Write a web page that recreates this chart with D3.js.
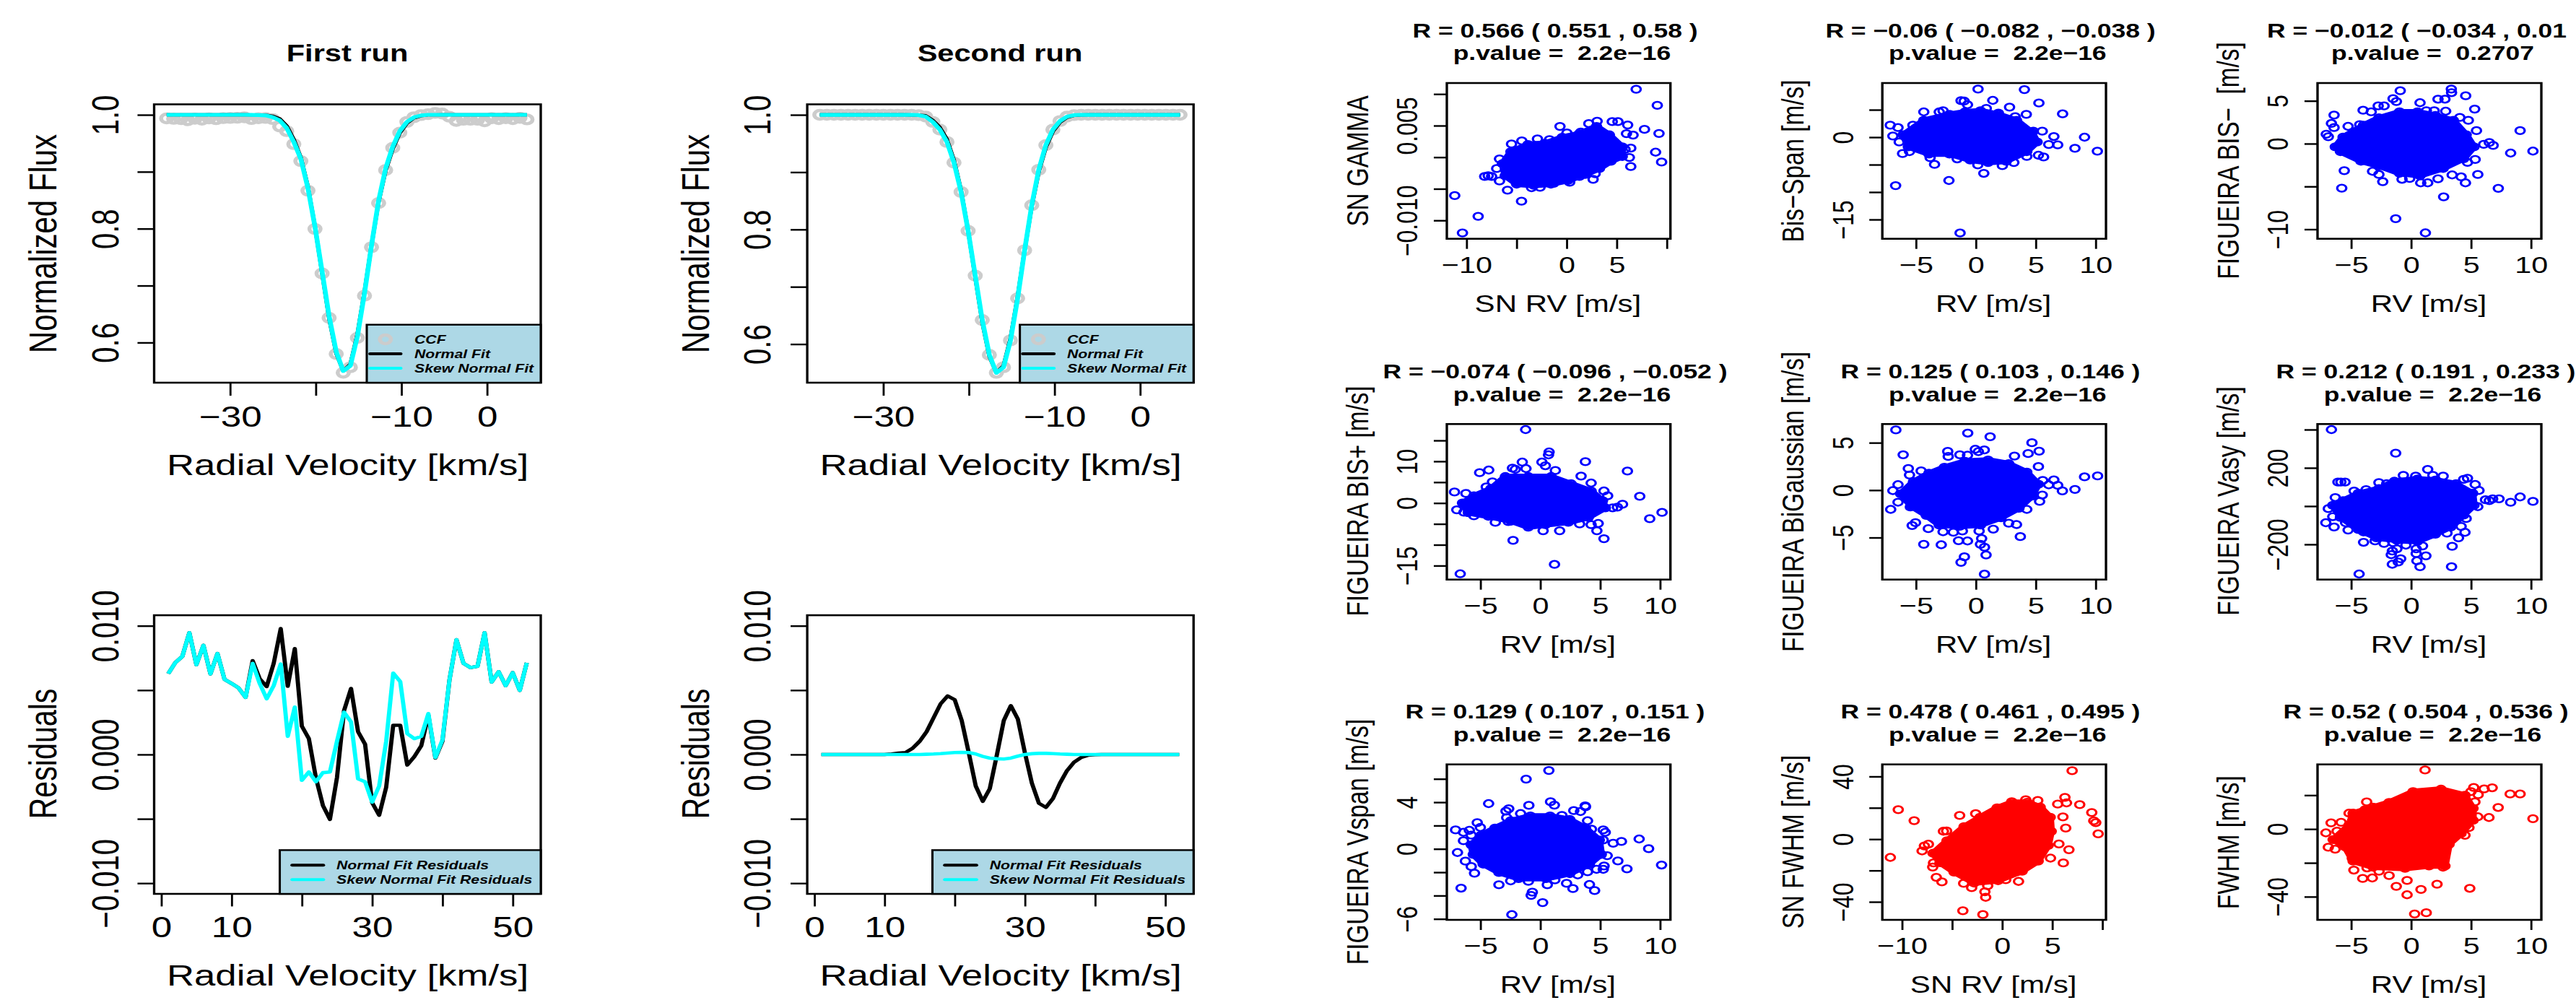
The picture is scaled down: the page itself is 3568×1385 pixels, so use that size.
<!DOCTYPE html>
<html>
<head>
<meta charset="utf-8">
<title>CCF fits and RV correlations</title>
<script src="https://cdn.jsdelivr.net/npm/d3@7/dist/d3.min.js"></script>
<style>
    html, body { margin: 0; padding: 0; background: #fff; overflow: hidden; }
    svg { display: block; }
    text { font-family: "Liberation Sans", Arial, sans-serif; fill: #000; white-space: pre; }
</style>
</head>
<body>
<svg id="chart" width="3568" height="1385"></svg>
<script>
// CCF grid in km/s
const velocity = [-37.40, -36.58, -35.75, -34.93, -34.10, -33.28, -32.45, -31.63, -30.80, -29.98, -29.15, -28.33, -27.50,
    -26.68, -25.85, -25.03, -24.20, -23.38, -22.55, -21.73, -20.90, -20.08, -19.25, -18.43, -17.60, -16.78, -15.95, -15.13,
    -14.30, -13.48, -12.65, -11.83, -11.00, -10.18, -9.35, -8.53, -7.70, -6.88, -6.05, -5.23, -4.40, -3.58, -2.75, -1.93,
    -1.10, -0.28, 0.55, 1.37, 2.20, 3.02, 3.85, 4.67];

// First run
const ccfFirst = [.9937, .9929, .9924, .9905, .9930, .9915, .9937, .9922, .9942, .9945, .9948, .9955, .9925, .9940, .9945,
    .9925, .9794, .9713, .9485, .9187, .8667, .7995, .7214, .6434, .5799, .5469, .5566, .6081, .6824, .7675, .8450, .9030,
    .9420, .9686, .9875, .9957, .9995, 1.0011, 1.0033, 1.0022, .9967, .9892, .9913, .9913, .9913, .9886, .9940, .9924, .9940,
    .9924, .9946, .9919];
const normalFirst = [1, 1, 1, 1, 1, 1, 1, 1, 1, 1, 1, 1, .9999, .9998, .9995, .9977, .9931, .9806, .9568, .9251, .8736, .8035,
    .7222, .6425, .5810, .5500, .5619, .6146, .6894, .7708, .8471, .9019, .9401, .9679, .9853, .9944, .9983, .9998, .9999,
    1, 1, 1, 1, 1, 1, 1, 1, 1, 1, 1, 1, 1];
const skewFirst = [1, 1, 1, 1, 1, 1, 1, 1, 1, 1, 1, 1, .9998, .9995, .9990, .9960, .9902, .9767, .9523, .9225, .8710, .8033,
    .7247, .6461, .5837, .5501, .5593, .6108, .6867, .7707, .8493, .9057, .9442, .9713, .9875, .9957, .9989, 1,
    1, 1, 1, 1, 1, 1, 1, 1, 1, 1, 1, 1, 1, 1];

// Second run
const ccfSecond = [1, 1, 1, 1, 1, 1, 1, 1, 1, 1, 1, 1, 1, 1, .9995, .9968, .9876, .9742, .9526, .9166, .8654, .7976, .7195,
    .6420, .5812, .5499, .5596, .6065, .6797, .7637, .8423, .9042, .9472, .9742, .9892, .9968, .9995, 1, 1, 1, 1, 1, 1, 1, 1,
    1, 1, 1, 1, 1, 1, 1];
const normalSecond = [1, 1, 1, 1, 1, 1, 1, 1, 1, 1, 1, 1, 1, .9998, .9996, .9986, .9905, .9781, .9572, .9209, .8680, .7978,
    .7170, .6384, .5785, .5499, .5622, .6103, .6825, .7639, .8401, .9004, .9431, .9708, .9870, .9955, .9989, .9998, 1, 1, 1,
    1, 1, 1, 1, 1, 1, 1, 1, 1, 1, 1];
const skewSecond = [1, 1, 1, 1, 1, 1, 1, 1, 1, 1, 1, 1, 1, 1, .9995, .9968, .9876, .9742, .9526, .9166, .8654, .7976, .7195,
    .6420, .5812, .5499, .5596, .6065, .6797, .7637, .8423, .9042, .9472, .9742, .9892, .9968, .9995, 1, 1, 1, 1, 1, 1, 1, 1,
    1, 1, 1, 1, 1, 1, 1];

// Residuals, in units of 0.001
const residFirstNormal = [6.28, 7.14, 7.62, 9.46, 6.97, 8.48, 6.26, 7.84, 5.84, 5.52, 5.17, 4.44, 7.29, 5.89, 5.28, 7.08, 9.78,
    5.30, 8.23, 2.21, 1.23, -1.80, -3.96, -5.04, -1.80, 3.40, 5.13, 1.77, 0.80, -3.74, -4.72, -2.55, 2.27, 2.27, -0.82, -0.17,
    0.69, 3.07, -0.28, 1.02, 5.78, 8.92, 7.08, 6.75, 6.86, 9.46, 5.63, 6.43, 5.35, 6.36, 4.98, 7.12];
const residFirstSkew = [6.28, 7.14, 7.62, 9.46, 6.97, 8.48, 6.26, 7.84, 5.84, 5.52, 5.17, 4.44, 7.08, 5.52, 4.33, 5.35, 7.03,
    1.41, 3.68, -2.01, -1.36, -2.12, -1.41, -1.36, 1.02, 3.29, 2.53, -1.90, -2.12, -3.70, -2.45, 1.02, 6.32, 5.67, 1.62, 1.23,
    1.41, 3.18, -0.24, 1.13, 5.78, 8.92, 7.08, 6.75, 6.86, 9.46, 5.63, 6.43, 5.35, 6.36, 4.98, 7.12];
const residSecondNormal = [0, 0, 0, 0, 0, 0, 0, 0, 0, 0, .04, .11, .15, .48, 1.02, 1.77, 2.86, 3.94, 4.55, 4.26, 2.64, .15, -2.45,
    -3.64, -2.66, -.06, 2.64, 3.79, 2.75, .15, -2.23, -3.79, -4.11, -3.42, -2.23, -1.26, -.61, -.24, -.06, -.02, 0, 0, 0, 0, 0,
    0, 0, 0, 0, 0, 0, 0];
const residSecondSkew = [0, 0, 0, 0, 0, 0, 0, 0, 0, 0, 0, 0, 0, 0, 0, .02, .04, .07, .11, .15, .17, .15, .04, -.15, -.28, -.33,
    -.35, -.28, -.13, 0, .06, .09, .09, .07, .04, .02, 0, 0, 0, 0, 0, 0, 0, 0, 0, 0, 0, 0, 0, 0, 0, 0];

const fluxTicks = [1.0, 0.9, 0.8, 0.7, 0.6];
const fluxLabels = { 1: "1.0", 0.8: "0.8", 0.6: "0.6" };
const velocityTicks = [-30, -20, -10, 0];
const velocityLabels = { "-30": "−30", "-10": "−10", 0: "0" };
const residTicks = [10, 5, 0, -5, -10];
const residLabels = { 10: "0.010", 0: "0.000", "-10": "−0.010" };
const indexTicks = [0, 10, 20, 30, 40, 50];
const indexLabels = { 0: "0", 10: "10", 30: "30", 50: "50" };

const rvTicks = [-5, 0, 5, 10];
const rvLabels = { "-5": "−5", 0: "0", 5: "5", 10: "10" };
const snRvTicks = [-10, -5, 0, 5, 10];
const snRvLabels = { "-10": "−10", 0: "0", 5: "5" };

// Scatter panels: a solid core outline, read as [x, y] from the picture, and the single rings around it
const gammaCore = [[-5.56, .87], [-3.85, 2.02], [-2.14, 2.21], [-.43, 3.16], [1.28, 3.73], [2.99, 4.87], [4.27, 3.54], [5.56, 1.63],
    [5.56, .11], [4.42, -.65], [3.28, -1.79], [1.85, -2.74], [.14, -3.69], [-1.57, -4.26], [-3.28, -4.45], [-4.99, -4.26], [-6.13, -2.93], [-6.41, -1.03]];
const gammaRings = [[6.95, 10.76], [9.06, 8.21], [9.23, 3.76], [8.89, .80], [9.49, -.76], [6.41, -1.48], [6.27, -.04], [7.78, 4.41], [6.64, 3.50],
    [5.98, 3.73], [6.10, 5.10], [5.13, 5.63], [4.56, 5.63], [3.05, 5.70], [2.22, 5.32], [-.66, 4.87], [.03, 3.84], [1.42, 3.99], [-2.91, 2.89],
    [-4.47, 2.59], [-1.71, 2.78], [-5.50, 2.09], [-6.70, -.27], [-6.98, -1.79], [-7.83, -2.93], [-8.18, -3.04], [-7.49, -3.04], [-6.70, -3.76],
    [-5.90, -5.21], [-4.50, -6.96], [-11.17, -6.08], [-8.83, -9.35], [-10.40, -11.98], [-3.50, -4.83], [-2.65, -4.75], [-1.28, -4.14], [.31, -3.95],
    [2.65, -3.50], [2.85, -2.62], [1.28, -3.04], [6.41, 1.44], [5.84, 1.25]];

const spanCore = [[-6.06, .44], [-4.34, 3.07], [-2.19, 4.17], [-.90, 4.61], [.39, 4.82], [1.89, 4.17], [3.40, 3.07], [4.69, .88], [5.12, -.88],
    [4.26, -2.63], [2.54, -4.39], [1.03, -4.61], [-.47, -4.17], [-2.19, -3.07], [-3.91, -3.07], [-5.63, -1.75]];
const spanRings = [[.19, 8.77], [4.06, 8.68], [1.42, 6.71], [5.27, 6.23], [2.82, 5.48], [-1.23, 6.67], [-.97, 6.58], [-.69, 5.92], [.88, 5.26],
    [-4.34, 4.61], [-3.05, 4.61], [-2.73, 4.82], [4.22, 4.17], [7.25, 4.25], [3.29, 3.73], [1.89, 4.39], [-7.14, 2.19], [-6.49, 1.75], [-5.25, 2.19],
    [-6.92, .22], [-6.39, -.88], [-6.11, -2.98], [-5.53, -2.63], [-3.81, -3.73], [-3.44, -4.96], [5.55, 1.10], [6.52, .13], [9.08, 0], [6.09, -1.32],
    [6.84, -1.40], [8.28, -2.02], [10.15, -2.54], [5.66, -3.60], [5.23, -3.29], [4.26, -3.51], [3.18, -4.61], [2.22, -5.18], [.17, -5.04], [.67, -6.58],
    [-2.24, -7.89], [-6.69, -8.82], [-1.31, -17.46], [-1.55, -3.95], [4.80, 1.10]];

const bisMinusCore = [[-6.32, -.37], [-5.67, .76], [-3.96, 2.16], [-2.68, 3.01], [-.96, 3.71], [.54, 3.71], [2.03, 3.29], [3.53, 2.72], [4.60, 1.04],
    [5.25, -.37], [4.39, -1.77], [2.68, -2.89], [.75, -3.74], [-.96, -3.46], [-2.68, -2.61], [-4.18, -2.05], [-5.89, -.93]];
const bisMinusRings = [[3.36, 6.38], [3.38, 5.96], [-.90, 6.18], [4.56, 5.59], [2.25, 5.20], [2.83, 5.20], [-1.50, 5.25], [-1.22, 4.92], [.75, 4.78],
    [5.31, 4.04], [-4.00, 3.90], [-2.74, 4.41], [-2.25, 4.41], [-3.32, 3.71], [1.93, 3.85], [2.89, 3.79], [1.28, 3.85], [-6.42, 3.34], [-6.64, 2.36],
    [-6.42, 1.88], [-7.07, 1.10], [-6.90, .81], [-5.25, 2.02], [-4.28, 2.22], [5.46, 1.52], [9.10, 1.52], [4.78, 2.72], [4.07, 3.06], [6.53, .14],
    [6.06, -.08], [6.85, -.20], [8.31, -1.10], [10.17, -.87], [5.35, -1.85], [4.71, -2.19], [5.57, -3.60], [3.43, -3.65], [4.18, -3.88], [4.54, -4.58],
    [2.25, -4.10], [7.28, -5.22], [2.72, -6.21], [1.39, -4.58], [.81, -4.58], [-2.36, -4.44], [-5.57, -3.15], [-5.78, -5.20], [-1.28, -8.76],
    [1.20, -10.42], [-3.21, -3.23], [-.75, -4.16], [-.11, -4.07], [-2.68, -3.60]];

const bisPlusCore = [[-6.49, 0], [-5.54, 1.73], [-4.11, 3.46], [-2.91, 6.35], [-1.00, 6.35], [.91, 6.35], [2.58, 4.62], [4.25, 2.89], [5.20, .58],
    [5.44, -1.15], [4.01, -3.46], [2.34, -4.62], [.43, -5.19], [-1.00, -5.77], [-2.43, -4.33], [-4.34, -3.17], [-6.01, -2.31]];
const bisPlusRings = [[-1.22, 17.60], [.74, 12.23], [.69, 11.54], [-1.50, 9.81], [.14, 9.81], [3.77, 9.92], [.43, 8.94], [-4.30, 7.91], [-5.06, 7.27],
    [-2.32, 8.37], [-2.08, 8.08], [-1.19, 8.25], [1.26, 7.79], [7.28, 7.67], [3.41, 6.46], [-3.99, 5.08], [4.25, 4.79], [-4.51, 3.87], [-7.16, 2.65],
    [-6.21, 2.31], [5.32, 2.89], [5.63, 1.73], [8.31, 1.62], [6.87, -.29], [6.44, -.98], [6.04, -1.15], [10.17, -2.25], [9.14, -3.75], [-6.97, -1.62],
    [-6.37, -2.19], [-5.54, -3.06], [-3.75, -4.62], [5.32, -8.54], [4.73, -6.64], [4.84, -4.90], [3.29, -5.02], [1.62, -6.64], [.24, -6.64],
    [-2.27, -8.94], [1.19, -14.71], [-6.68, -16.96], [4.25, -5.19], [-2.67, -4.44]];

const biGaussCore = [[-6.28, -.38], [-5.20, .89], [-3.91, 1.78], [-2.62, 2.41], [-.90, 3.05], [1.03, 3.17], [2.75, 2.79], [4.26, 1.90], [5.23, .63],
    [4.69, -.63], [3.61, -1.90], [2.11, -2.92], [.39, -3.68], [-1.33, -3.81], [-3.05, -3.68], [-4.13, -2.66], [-5.42, -1.65]];
const biGaussRings = [[-6.67, 6.35], [-.67, 6.02], [1.20, 5.63], [4.69, 5.00], [-.04, 4.31], [.71, 4.24], [.22, 4.06], [-2.34, 4.09], [5.29, 4.11],
    [4.37, 3.86], [3.23, 3.60], [-6.06, 3.73], [-2.30, 3.55], [-1.33, 3.73], [-.69, 3.68], [-5.63, 2.28], [-4.56, 2.03], [5.23, 2.49], [-5.53, 1.60],
    [-6.49, .58], [-6.92, -.05], [10.17, 1.50], [9.08, 1.40], [6.52, 1.09], [6.09, .56], [6.84, .51], [8.28, .08], [7.23, -.08], [5.59, 1.02],
    [5.55, -.51], [5.33, -1.19], [4.26, -2.03], [-7.10, -2.03], [-6.49, -1.27], [-5.46, -1.78], [-5.03, -3.43], [-5.31, -3.73], [-3.96, -4.06],
    [-4.34, -5.71], [-2.88, -5.76], [-1.87, -4.44], [-2.73, -4.39], [-.69, -5.36], [-1.44, -5.33], [.49, -5.10], [.39, -5.71], [.73, -6.02],
    [.86, -6.83], [-.95, -7.03], [-1.23, -7.61], [.73, -8.86], [3.72, -4.90], [3.40, -3.63], [2.75, -3.48], [1.46, -4.11], [.28, -4.31], [-1.12, -4.31]];

const vasyCore = [[-6.53, 4], [-5.67, 29], [-4.39, 67], [-2.68, 92], [-1.39, 130], [.54, 142], [2.03, 136], [3.75, 117], [5.14, 67], [5.25, 4],
    [4.39, -47], [3.32, -109], [2.03, -147], [.54, -185], [-1.18, -179], [-2.89, -166], [-4.39, -122], [-5.89, -59]];
const vasyRings = [[-6.64, 400], [-1.28, 277], [1.39, 192], [-.64, 161], [.39, 157], [2.68, 157], [1.82, 161], [-6.10, 126], [-5.85, 126], [-5.50, 126],
    [-2.68, 123], [4.71, 146], [4.39, 140], [5.35, 113], [-2.03, 117], [-4.75, 79], [-6.32, 45], [-3.75, 86], [5.67, 82], [6.21, 33], [6.81, 38],
    [7.34, 38], [8.31, 20], [9.10, 48], [10.17, 25], [6.53, 29], [-6.90, -13], [-6.53, -55], [-7.11, -87], [-6.42, -109], [-5.46, -87], [-5.25, -125],
    [-3.96, -189], [-2.25, -195], [-1.50, -191], [3.43, -210], [3.96, -166], [4.50, -137], [4.18, -106], [3.00, -141], [.96, -208], [.43, -223],
    [-1.18, -223], [-1.56, -235], [-1.65, -254], [-.86, -275], [.43, -248], [1.24, -260], [.49, -286], [-1.56, -304], [-1.07, -292], [.75, -317],
    [3.38, -317], [-4.33, -355], [-.43, -204], [-3.00, -182], [-3.96, -135], [5.57, -3], [4.60, -65]];

const vspanCore = [[-5.76, .35], [-4.93, 1.18], [-3.78, 1.79], [-2.47, 2.41], [-.82, 2.82], [.82, 2.82], [2.47, 2.52], [3.78, 1.79], [4.93, .76],
    [5.10, -.47], [4.11, -1.30], [2.47, -2.12], [.49, -2.54], [-1.81, -2.54], [-3.45, -2.02], [-4.77, -1.30], [-5.59, -.47]];
const vspanRings = [[.72, 6.72], [-1.18, 5.98], [.86, 4.04], [1.18, 3.75], [-4.31, 3.88], [-.95, 3.73], [3.75, 3.69], [3.78, 3.61], [2.80, 3.28],
    [-2.63, 3.44], [-2.86, 3.24], [3.36, 3.20], [-1.64, 3.03], [3.95, 2.41], [-2.80, 2.68], [1.81, 2.87], [-5.26, 2.25], [-5.00, 1.84], [-7.07, 1.63],
    [-6.41, 1.42], [4.28, 1.69], [5.26, 1.63], [5.43, 1.42], [8.26, .85], [6.78, .64], [6.09, .49], [-6.41, .70], [5.26, .76], [9.05, .02], [-6.91, -.31],
    [-6.25, -1.05], [5.59, -.58], [6.48, -1.03], [7.24, -1.71], [10.13, -1.38], [5.33, -1.46], [5.26, -1.75], [4.70, -1.75], [3.95, -1.96], [-5.76, -1.51],
    [-5.49, -2.08], [-6.61, -3.36], [-3.45, -3.07], [-2.47, -2.74], [.59, -3.07], [1.22, -2.66], [2.20, -2.95], [2.73, -3.40], [4.11, -3.05], [4.54, -3.57],
    [-.66, -3.71], [-.76, -3.98], [.20, -4.60], [-2.37, -5.63], [-.99, -2.78], [3.13, -2.23], [-5.76, 1.18], [-5.92, 1.59]];

const snFwhmCore = [[-6.9, -9], [-5.5, -1], [-3.8, 8], [-2.2, 14], [-.5, 20], [1, 23.5], [2.5, 23.5], [3.8, 20.5], [4.8, 14], [4.9, 5], [4.6, -4],
    [3.6, -14], [2, -20.5], [-.4, -26.5], [-2.8, -28], [-4.8, -21], [-6.2, -15]];
const snFwhmRings = [[-10.37, 18.85], [-8.78, 11.80], [-11.16, -11.65], [-5.86, 5.06], [-5.54, 5.21], [-7.36, -3.22], [-7.76, -4.29], [-7.99, -7.51],
    [-6.85, -15.17], [-6.93, -17.78], [-6.57, -24.37], [-6.01, -27.28], [6.99, 43.68], [6.27, 26.67], [7.75, 22.07], [6.43, 23.14], [5.55, 22.38],
    [8.95, 17.01], [9.15, 11.65], [9.35, 10.57], [6.07, 14.25], [9.59, 3.37], [6.35, 7.05], [5.67, -3.07], [6.67, -6.74], [4.83, -12.11], [6.11, -15.17],
    [3.56, 24.67], [2.36, 25.13], [.96, 23.91], [1.64, -26.97], [.36, -25.90], [-3.92, -45.67], [-1.92, -48.12], [-1.64, -37.09], [-1.72, -33.56],
    [-1.44, -29.73], [-3.04, -30.96], [-3.84, -28.20], [-4.24, 15.17], [-2.64, 16.25]];

const fwhmCore = [[-6.5, -6.24], [-5.17, 2.27], [-4.83, 9.36], [-3.17, 12.91], [-1.83, 15.74], [.17, 22.13], [2.5, 23.55], [4.5, 20.0], [5.17, 12.2],
    [5.17, 5.11], [4.17, -2.7], [3.17, -9.08], [2.83, -21.84], [1.5, -21.84], [-.5, -23.26], [-3.17, -22.55], [-4.83, -19.0], [-5.5, -10.5]];
const fwhmRings = [[1.17, 34.89], [5.23, 24.54], [6.77, 24.40], [6.10, 23.69], [5.00, 22.13], [8.27, 20.71], [9.10, 20.71], [5.60, 20.28], [5.33, 16.03],
    [7.27, 12.77], [6.50, 6.81], [10.17, 6.10], [5.57, 7.23], [4.83, .85], [4.50, -3.69], [-3.70, 16.03], [-5.83, 3.97], [-6.67, 3.69], [-7.10, -2.27],
    [-6.17, -1.28], [-6.90, -10.78], [-6.33, -11.91], [-4.90, -17.30], [-4.77, -24.26], [-4.03, -29.22], [-3.23, -28.94], [-1.83, -27.52], [-1.23, -33.90],
    [-.33, -38.87], [-.33, -30.35], [.83, -35.74], [2.17, -32.62], [4.90, -35.04], [.30, -50.21], [1.27, -49.50], [2.67, -22.55], [-2.67, -24.96],
    [-3.67, -22.98], [-4.83, 7.94], [-3.83, 11.49], [-5.17, 9.36]];

const svg = d3.select("#chart");
const grey = "#cccccc", skyBlue = "#add8e6", cyan = "#00ffff";
const leftStretch = 1.28, scatterStretch = 1.29;

// the picture is stretched sideways, so each panel is drawn in a scaled group
function makePanel(left, right, top, bottom, stretch) {
    const g = svg.append("g").attr("transform", `translate(${left},${top}) scale(${stretch},1)`);
    return { g, left, top, stretch, w: (right - left) / stretch, h: bottom - top };
}

function addText(x, y, str, size, opts = {}) {
    const stretch = opts.stretch || 1;
    svg.append("text")
        .attr("transform", `translate(${x},${y}) scale(${stretch},1)` + (opts.rotate ? " rotate(-90)" : ""))
        .attr("text-anchor", opts.anchor || "middle")
        .attr("font-size", size)
        .attr("font-weight", opts.bold ? "bold" : "normal")
        .attr("font-style", opts.italic ? "italic" : "normal")
        .text(str);
}

// ticks and labels come from d3 axes, the labels then get moved to the baselines of the picture
function drawAxes(p, x, y, a) {
    const xg = p.g.append("g").attr("transform", `translate(0,${p.h})`)
        .call(d3.axisBottom(x).tickValues(a.xTicks).tickSize(a.xTickLen).tickSizeOuter(0).tickFormat(d => a.xLabels[d] || ""));
    xg.select(".domain").remove();
    xg.selectAll("line").attr("stroke", "#000").attr("stroke-width", 2.2);
    xg.selectAll("text").attr("y", a.xBaseline - p.top - p.h).attr("dy", 0)
        .attr("font-size", a.tickSize).attr("font-family", null).attr("fill", "#000");

    const yg = p.g.append("g")
        .call(d3.axisLeft(y).tickValues(a.yTicks).tickSize(a.yTickLen).tickSizeOuter(0).tickFormat(d => a.yLabels[d] || ""));
    yg.select(".domain").remove();
    yg.selectAll("line").attr("stroke", "#000").attr("stroke-width", 2.4);
    yg.selectAll("text")
        .attr("x", 0).attr("y", 0).attr("dy", 0)
        .attr("text-anchor", "middle")
        .attr("font-size", a.tickSize).attr("font-family", null).attr("fill", "#000")
        .attr("transform", `translate(${(a.yBaseline - p.left) / p.stretch},0) rotate(-90)`);

    addText(a.xTitleX, a.xTitleY, a.xTitle, a.titleSize, { stretch: p.stretch });
    addText(a.yTitleX, a.yTitleY, a.yTitle, a.yTitleSize, { stretch: p.stretch, rotate: true });
}

function drawBox(p) {
    p.g.append("rect").attr("width", p.w).attr("height", p.h)
        .attr("fill", "none").attr("stroke", "#000").attr("stroke-width", 2.6);
}

function drawLegend(p, x0, x1, y0, y1, entries) {
    const box = p.g.append("g");
    const gx = v => (v - p.left) / p.stretch, gy = v => v - p.top;
    box.append("rect").attr("x", gx(x0)).attr("y", gy(y0)).attr("width", gx(x1) - gx(x0)).attr("height", gy(y1) - gy(y0))
        .attr("fill", skyBlue).attr("stroke", "#000").attr("stroke-width", 2.4);
    entries.forEach(e => {
        if (e.point) {
            box.append("circle").attr("cx", gx((e.lineX[0] + e.lineX[1]) / 2)).attr("cy", gy(e.y)).attr("r", 6)
                .attr("fill", "none").attr("stroke", grey).attr("stroke-width", 4.4);
        } else {
            box.append("line").attr("x1", gx(e.lineX[0])).attr("x2", gx(e.lineX[1])).attr("y1", gy(e.y)).attr("y2", gy(e.y))
                .attr("stroke", e.color).attr("stroke-width", 4).attr("stroke-linecap", "round");
        }
        box.append("text").attr("x", gx(e.textX)).attr("y", gy(e.y) + 6)
            .attr("font-size", 16.6).attr("font-weight", "bold").attr("font-style", "italic").text(e.label);
    });
}

function drawLine(p, xs, ys, x, y, color, width) {
    const line = d3.line().x(d => x(d[0])).y(d => y(d[1]));
    p.g.append("path").datum(xs.map((v, i) => [v, ys[i]]))
        .attr("d", line).attr("fill", "none").attr("stroke", color).attr("stroke-width", width).attr("stroke-linejoin", "round");
}

function fluxPanel(left, right, xDomain, yDomain, ccf, normal, skew, yBaseline, title, titleX, legendX, xTitleX, yTitleX) {
    const p = makePanel(left, right, 144.5, 530, leftStretch);
    const x = d3.scaleLinear().domain(xDomain).range([0, p.w]);
    const y = d3.scaleLinear().domain(yDomain).range([p.h, 0]);
    p.g.append("g").selectAll("circle").data(ccf).join("circle")
        .attr("cx", (d, i) => x(velocity[i])).attr("cy", d => y(d)).attr("r", 6)
        .attr("fill", "none").attr("stroke", grey).attr("stroke-width", 4.4);
    drawLine(p, velocity, normal, x, y, "#000", 4.4);
    drawLine(p, velocity, skew, x, y, cyan, 5.2);
    drawBox(p);
    drawAxes(p, x, y, {
        xTicks: velocityTicks, xLabels: velocityLabels, xTickLen: 18, xBaseline: 591,
        yTicks: fluxTicks, yLabels: fluxLabels, yTickLen: 18, yBaseline: yBaseline, tickSize: 40,
        titleSize: 41.2, yTitleSize: 42, xTitle: "Radial Velocity [km/s]", xTitleX: xTitleX, xTitleY: 658,
        yTitle: "Normalized Flux", yTitleX: yTitleX, yTitleY: 337.5
    });
    addText(titleX, 84.7, title, 32.5, { bold: true, stretch: leftStretch });
    drawLegend(p, legendX[0], right, 449.7, 530, [
        { point: true, y: 470, lineX: [legendX[1], legendX[2]], textX: legendX[3], label: "CCF" },
        { color: "#000", y: 490, lineX: [legendX[1], legendX[2]], textX: legendX[3], label: "Normal Fit" },
        { color: cyan, y: 510, lineX: [legendX[1], legendX[2]], textX: legendX[3], label: "Skew Normal Fit" }
    ]);
}

function residualPanel(left, right, xDomain, normal, skew, yBaseline, legendX, xTitleX, yTitleX) {
    const p = makePanel(left, right, 852.1, 1238, leftStretch);
    const x = d3.scaleLinear().domain(xDomain).range([0, p.w]);
    const y = d3.scaleLinear().domain([-10.83, 10.82]).range([p.h, 0]);
    const index = normal.map((v, i) => i + 1);
    drawLine(p, index, normal, x, y, "#000", 4.6);
    drawLine(p, index, skew, x, y, cyan, 4.6);
    drawBox(p);
    drawAxes(p, x, y, {
        xTicks: indexTicks, xLabels: indexLabels, xTickLen: 17.4, xBaseline: 1298,
        yTicks: residTicks, yLabels: residLabels, yTickLen: 18, yBaseline: yBaseline, tickSize: 40,
        titleSize: 41.2, yTitleSize: 41.2, xTitle: "Radial Velocity [km/s]", xTitleX: xTitleX, xTitleY: 1364.5,
        yTitle: "Residuals", yTitleX: yTitleX, yTitleY: 1044
    });
    drawLegend(p, legendX[0], right, 1177.4, 1238, [
        { color: "#000", y: 1198.2, lineX: [legendX[1], legendX[2]], textX: legendX[3], label: "Normal Fit Residuals" },
        { color: cyan, y: 1218.3, lineX: [legendX[1], legendX[2]], textX: legendX[3], label: "Skew Normal Fit Residuals" }
    ]);
}

function scatterPanel(s) {
    const p = makePanel(s.box[0], s.box[1], s.box[2], s.box[3], scatterStretch);
    const x = d3.scaleLinear().domain(s.xDomain).range([0, p.w]);
    const y = d3.scaleLinear().domain(s.yDomain).range([p.h, 0]);
    const line = d3.line().x(d => x(d[0])).y(d => y(d[1])).curve(d3.curveLinearClosed);
    // the wide stroke stands in for the outer half of the overlapping rings
    p.g.append("path").datum(s.core).attr("d", line).attr("fill", s.color).attr("stroke", s.color)
        .attr("stroke-width", 8).attr("stroke-linejoin", "round");
    p.g.append("g").selectAll("circle").data(s.core.concat(s.rings)).join("circle")
        .attr("cx", d => x(d[0])).attr("cy", d => y(d[1])).attr("r", 4.9)
        .attr("fill", "none").attr("stroke", s.color).attr("stroke-width", 2.5);
    drawBox(p);
    drawAxes(p, x, y, {
        xTicks: s.xTicks, xLabels: s.xLabels, xTickLen: 14, xBaseline: s.box[3] + 47.5,
        yTicks: s.yTicks, yLabels: s.yLabels, yTickLen: 14, yBaseline: s.box[0] - 40.7, tickSize: 32,
        titleSize: 32.6, yTitleSize: 33.3, xTitle: s.xTitle, xTitleX: (s.box[0] + s.box[1]) / 2 - 1, xTitleY: s.box[3] + 101,
        yTitle: s.yTitle, yTitleX: s.box[0] - 109.5, yTitleY: s.yTitleY
    });
    const titleY = s.box[2] - 63.3;
    if (s.clipped) {
        addText(s.titleX, titleY, s.title, 27.5, { bold: true, stretch: scatterStretch, anchor: "start" });
    } else {
        addText(s.titleX, titleY, s.title, 27.5, { bold: true, stretch: scatterStretch });
    }
    addText(s.pValueX, titleY + 31.6, s.pValue, 27.5, { bold: true, stretch: scatterStretch });
}

fluxPanel(213.5, 749, [-38.86, 6.28], [.5295, 1.0184], ccfFirst, normalFirst, skewFirst, 163.6,
    "First run", 481, [508, 512.6, 555, 574], 481.5, 77.5);
fluxPanel(1118.1, 1653.2, [-38.87, 6.25], [.5327, 1.0183], ccfSecond, normalSecond, skewSecond, 1067,
    "Second run", 1385, [1412.6, 1416.7, 1459.7, 1478], 1386, 981.5);
residualPanel(213.5, 749, [-1.01, 53.99], residFirstNormal, residFirstSkew, 163.6, [387.5, 404.7, 447.8, 466], 481.5, 77.5);
residualPanel(1118.1, 1653.2, [-1.01, 54.04], residSecondNormal, residSecondSkew, 1067, [1291.5, 1308.7, 1352.4, 1370.7], 1386, 981.5);

const colX = [[2004, 2313.7], [2607.2, 2917], [3210, 3520]];
const rowY = [[115, 330.7], [587.3, 802.7], [1058.7, 1274]];
const rvDomain = [-7.8, 10.87], snRvDomain = [-11.96, 10.37];
const titleXs = [2154, 2757, 3360], pValueXs = [2163.4, 2766.8, 3369.5];

scatterPanel({ box: [...colX[0], ...rowY[0]], color: "#0000ff", core: gammaCore, rings: gammaRings, xDomain: snRvDomain, yDomain: [-12.91, 11.74],
    xTicks: snRvTicks, xLabels: snRvLabels, yTicks: [10, 5, 0, -5, -10], yLabels: { 5: "0.005", "-10": "−0.010" },
    xTitle: "SN RV [m/s]", yTitle: "SN GAMMA", yTitleY: 223,
    title: "R = 0.566 ( 0.551 , 0.58 )", titleX: titleXs[0], pValue: "p.value =  2.2e−16", pValueX: pValueXs[0] });
scatterPanel({ box: [...colX[1], ...rowY[0]], color: "#0000ff", core: spanCore, rings: spanRings, xDomain: rvDomain, yDomain: [-18.51, 9.87],
    xTicks: rvTicks, xLabels: rvLabels, yTicks: [5, 0, -5, -10, -15], yLabels: { 0: "0", "-15": "−15" },
    xTitle: "RV [m/s]", yTitle: "Bis−Span [m/s]", yTitleY: 223,
    title: "R = −0.06 ( −0.082 , −0.038 )", titleX: titleXs[1], pValue: "p.value =  2.2e−16", pValueX: pValueXs[1] });
scatterPanel({ box: [...colX[2], ...rowY[0]], color: "#0000ff", core: bisMinusCore, rings: bisMinusRings, xDomain: rvDomain, yDomain: [-11.11, 7.08],
    xTicks: rvTicks, xLabels: rvLabels, yTicks: [5, 0, -5, -10], yLabels: { 5: "5", 0: "0", "-10": "−10" },
    xTitle: "RV [m/s]", yTitle: "FIGUEIRA BIS−  [m/s]", yTitleY: 222.5, clipped: true,
    title: "R = −0.012 ( −0.034 , 0.01", titleX: 3140, pValue: "p.value =  0.2707", pValueX: pValueXs[2] });

scatterPanel({ box: [...colX[0], ...rowY[1]], color: "#0000ff", core: bisPlusCore, rings: bisPlusRings, xDomain: rvDomain, yDomain: [-18.34, 18.93],
    xTicks: rvTicks, xLabels: rvLabels, yTicks: [15, 10, 5, 0, -5, -10, -15], yLabels: { 10: "10", 0: "0", "-15": "−15" },
    xTitle: "RV [m/s]", yTitle: "FIGUEIRA BIS+ [m/s]", yTitleY: 694,
    title: "R = −0.074 ( −0.096 , −0.052 )", titleX: titleXs[0], pValue: "p.value =  2.2e−16", pValueX: pValueXs[0] });
scatterPanel({ box: [...colX[1], ...rowY[1]], color: "#0000ff", core: biGaussCore, rings: biGaussRings, xDomain: rvDomain, yDomain: [-9.43, 6.97],
    xTicks: rvTicks, xLabels: rvLabels, yTicks: [5, 0, -5], yLabels: { 5: "5", 0: "0", "-5": "−5" },
    xTitle: "RV [m/s]", yTitle: "FIGUEIRA BiGaussian [m/s]", yTitleY: 695,
    title: "R = 0.125 ( 0.103 , 0.146 )", titleX: titleXs[1], pValue: "p.value =  2.2e−16", pValueX: pValueXs[1] });
scatterPanel({ box: [...colX[2], ...rowY[1]], color: "#0000ff", core: vasyCore, rings: vasyRings, xDomain: rvDomain, yDomain: [-384, 429],
    xTicks: rvTicks, xLabels: rvLabels, yTicks: [400, 200, 0, -200], yLabels: { 200: "200", "-200": "−200" },
    xTitle: "RV [m/s]", yTitle: "FIGUEIRA Vasy [m/s]", yTitleY: 694,
    title: "R = 0.212 ( 0.191 , 0.233 )", titleX: titleXs[2], pValue: "p.value =  2.2e−16", pValueX: pValueXs[2] });

scatterPanel({ box: [...colX[0], ...rowY[2]], color: "#0000ff", core: vspanCore, rings: vspanRings, xDomain: rvDomain, yDomain: [-6.08, 7.24],
    xTicks: rvTicks, xLabels: rvLabels, yTicks: [6, 4, 2, 0, -2, -4, -6], yLabels: { 4: "4", 0: "0", "-6": "−6" },
    xTitle: "RV [m/s]", yTitle: "FIGUEIRA Vspan [m/s]", yTitleY: 1166,
    title: "R = 0.129 ( 0.107 , 0.151 )", titleX: titleXs[0], pValue: "p.value =  2.2e−16", pValueX: pValueXs[0] });
scatterPanel({ box: [...colX[1], ...rowY[2]], color: "#ff0000", core: snFwhmCore, rings: snFwhmRings, xDomain: snRvDomain, yDomain: [-51.5, 47.7],
    xTicks: snRvTicks, xLabels: snRvLabels, yTicks: [40, 20, 0, -20, -40], yLabels: { 40: "40", 0: "0", "-40": "−40" },
    xTitle: "SN RV [m/s]", yTitle: "SN FWHM [m/s]", yTitleY: 1166,
    title: "R = 0.478 ( 0.461 , 0.495 )", titleX: titleXs[1], pValue: "p.value =  2.2e−16", pValueX: pValueXs[1] });
scatterPanel({ box: [...colX[2], ...rowY[2]], color: "#ff0000", core: fwhmCore, rings: fwhmRings, xDomain: rvDomain, yDomain: [-53.7, 38.2],
    xTicks: rvTicks, xLabels: rvLabels, yTicks: [20, 0, -20, -40], yLabels: { 0: "0", "-40": "−40" },
    xTitle: "RV [m/s]", yTitle: "FWHM [m/s]", yTitleY: 1166.7,
    title: "R = 0.52 ( 0.504 , 0.536 )", titleX: titleXs[2], pValue: "p.value =  2.2e−16", pValueX: pValueXs[2] });
</script>
</body>
</html>
